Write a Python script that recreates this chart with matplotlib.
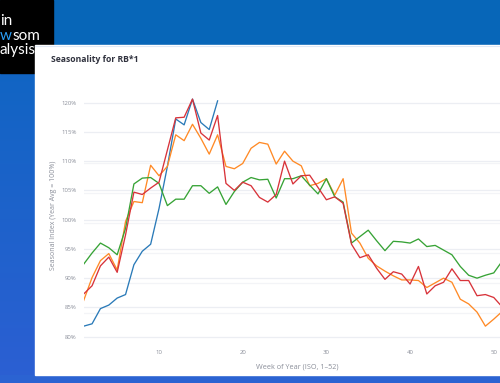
import numpy as np
import matplotlib
matplotlib.use("Agg")
import matplotlib.pyplot as plt
from matplotlib.patches import Rectangle

weeks_full = list(range(1, 53))
weeks_blue = list(range(1, 18))

blue = [81.8, 82.2, 84.8, 85.4, 86.6, 87.2, 92.3, 94.6, 95.8, 101.9, 109.1, 117.2,
        116.2, 120.6, 116.6, 115.4, 120.3]
orange = [86.2, 90.1, 93.0, 94.2, 91.4, 99.7, 103.1, 102.9, 109.3, 107.5, 109.1, 114.5,
          113.5, 116.3, 113.9, 111.2, 114.5, 109.1, 108.7, 109.6, 112.2, 113.2, 112.9, 109.5,
          111.7, 110.0, 109.2, 105.8, 106.2, 107.0, 104.2, 107.0, 97.7, 96.0, 93.4, 92.1,
          91.2, 90.4, 89.7, 89.7, 89.6, 88.4, 89.2, 90.0, 89.3, 86.4, 85.6, 84.2, 81.8,
          83.0, 84.3, 84.8]
green = [92.4, 94.3, 96.0, 95.2, 94.0, 98.5, 106.1, 107.1, 107.2, 106.2, 102.4, 103.5,
         103.5, 105.8, 105.8, 104.5, 105.6, 102.6, 104.8, 106.4, 107.2, 106.8, 106.9, 103.7,
         107.0, 107.0, 107.5, 105.9, 104.4, 107.0, 103.9, 103.0, 96.0, 97.1, 98.2, 96.4,
         94.7, 96.3, 96.2, 96.0, 96.7, 95.4, 95.6, 94.8, 94.0, 92.0, 90.5, 90.0, 90.5,
         90.9, 92.9, 93.5]
red = [87.3, 88.7, 92.1, 93.6, 91.0, 97.4, 104.7, 104.3, 105.4, 106.4, 111.9, 117.4,
       117.5, 120.6, 114.8, 113.6, 117.8, 106.2, 105.0, 106.4, 105.8, 103.8, 103.0, 104.3,
       110.0, 106.1, 107.5, 107.6, 105.5, 103.4, 103.9, 102.8, 95.8, 93.5, 94.0, 91.7,
       89.8, 91.1, 90.7, 89.0, 92.0, 87.3, 88.7, 89.3, 91.6, 89.6, 89.6, 87.0, 87.2,
       86.7, 85.1, 84.8]

series = [
    (weeks_blue, blue, "#2a7ab8"),
    (weeks_full, orange, "#ff8a26"),
    (weeks_full, green, "#37a336"),
    (weeks_full, red, "#d8333a"),
]

y_ticks = [80, 85, 90, 95, 100, 105, 110, 115, 120]
x_ticks = [10, 20, 30, 40, 50]
faint_grid = [109.6, 104.6, 99.4, 94.3, 89.1, 84.0]

W, H = 500, 383
fig = plt.figure(figsize=(W / 100, H / 100), dpi=100)

# background page
bg = fig.add_axes([0, 0, 1, 1])
bg.set_xlim(0, W)
bg.set_ylim(H, 0)
bg.axis("off")
grad = np.linspace(0, 1, 256).reshape(-1, 1)
c_top = np.array([0x0b, 0x66, 0xc0]) / 255
c_bot = np.array([0x2c, 0x5f, 0xd3]) / 255
img = c_top[None, None, :] * (1 - grad[..., None]) + c_bot[None, None, :] * grad[..., None]
img = np.repeat(img, 2, axis=1)
bg.imshow(img, extent=[0, W, H, 0], aspect="auto", zorder=0)
bg.add_patch(Rectangle((0, 0), W, 45, color="#0766b8", zorder=1))
bg.add_patch(Rectangle((0, 0), 53, 73, color="#000000", zorder=2))
bg.add_patch(Rectangle((0, 375), W, 8, color="#2b63d2", zorder=2))
bg.add_patch(Rectangle((35, 45), W - 35, 330, color="#ffffff", zorder=3))
bg.plot([35, W], [45.5, 45.5], color="#dfe8f5", lw=0.8, zorder=4)

brand_font = ["Lato", "DejaVu Sans"]
bg.text(0, 25, "in", color="white", fontsize=11, family=brand_font, zorder=2)
bg.text(0, 40, "w", color="#2a9df4", fontsize=11, family=brand_font, zorder=2)
bg.text(12.5, 40, "som", color="white", fontsize=11, family=brand_font, zorder=2)
bg.text(0, 54, "alysis", color="white", fontsize=11, family=brand_font, zorder=2)

bg.text(51, 62, "Seasonality for RB*1", color="#31333f", fontsize=6.2,
        fontweight="bold", family=["Open Sans", "DejaVu Sans"], zorder=5)

# chart axes
ax = fig.add_axes([83.7 / W, 1 - 343 / H, 426.8 / W, 255 / H])
ax.set_facecolor("none")
ax.set_xlim(1, 52)
ax.set_ylim(78.92, 122.5)
for s in ax.spines.values():
    s.set_visible(False)
for g in faint_grid:
    ax.axhline(g, color="#f3f4f7", lw=0.9, zorder=0)
ax.set_yticks(y_ticks)
ax.set_yticklabels([f"{v}%" for v in y_ticks])
ax.set_xticks(x_ticks)
ax.grid(axis="y", color="#eceef3", lw=0.9, zorder=0)
ax.grid(axis="x", visible=False)
ax.tick_params(length=0, labelsize=4.3, labelcolor="#8a8e99", pad=5)
for lab in ax.get_xticklabels() + ax.get_yticklabels():
    lab.set_family(["Open Sans", "DejaVu Sans"])

for xs, ys, col in series:
    ax.plot(xs, ys, color=col, lw=0.95, zorder=3)

ax.set_xlabel("Week of Year (ISO, 1–52)", fontsize=5.2, color="#8a8e99",
              family=["Open Sans", "DejaVu Sans"], labelpad=6)
ax.set_ylabel("Seasonal Index (Year Avg = 100%)", fontsize=5.0, color="#8a8e99",
              family=["Open Sans", "DejaVu Sans"], labelpad=3)

fig.savefig("out.png", dpi=100)
